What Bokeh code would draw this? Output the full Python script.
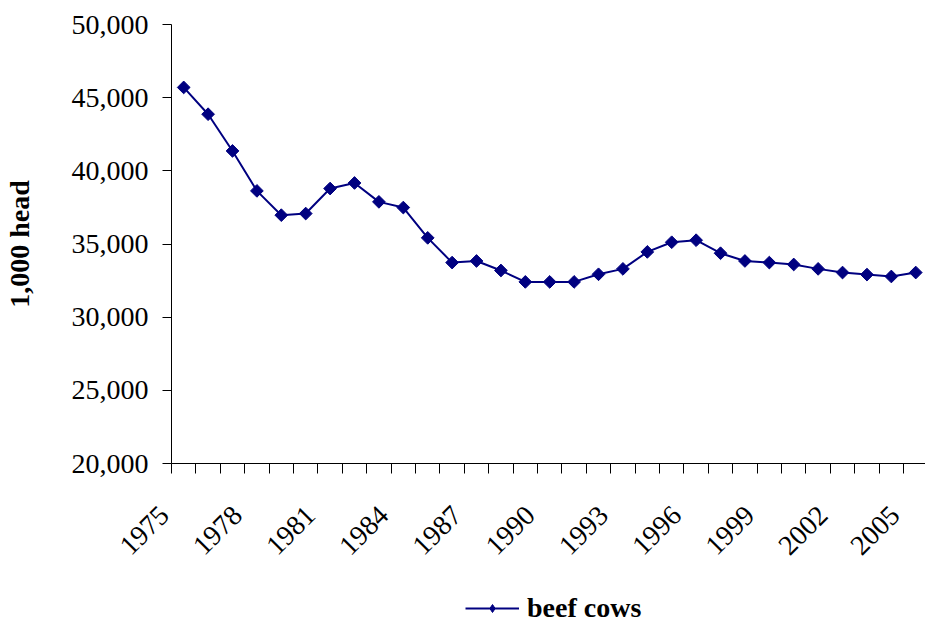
import math
from bokeh.plotting import figure
from bokeh.layouts import column
from bokeh.models import (FixedTicker, NumeralTickFormatter, Legend, LegendItem, Range1d)
from bokeh.embed import file_html
from bokeh.resources import INLINE

years = list(range(1975, 2006))
beef_cows = [45700, 43870, 41360, 38630, 36970, 37080, 38790, 39170, 37880, 37490,
             35420, 33730, 33840, 33190, 32410, 32410, 32410, 32930, 33300, 34460,
             35120, 35260, 34370, 33840, 33730, 33600, 33300, 33050, 32910, 32780, 33050]
y_ticks = [20000, 25000, 30000, 35000, 40000, 45000, 50000]
label_years = [1975, 1978, 1981, 1984, 1987, 1990, 1993, 1996, 1999, 2002, 2005]
series_name = "beef cows"

FONT = "Liberation Serif"
NAVY = "#000080"
PAD = "\u00a0" * 4  # slanted labels end a little left of their category, as in the original

p = figure(frame_width=754, frame_height=439, output_backend="svg", toolbar_location=None,
           x_range=Range1d(1974.5, 2005.4), y_range=Range1d(20000, 50000),
           min_border_left=171, min_border_top=24, min_border_right=0, min_border_bottom=0)
p.outline_line_color = None
p.xgrid.visible = False
p.ygrid.visible = False

p.line(years, beef_cows, line_color=NAVY, line_width=2)
p.scatter(years, beef_cows, marker="square", angle=math.pi / 4, size=9,
          fill_color=NAVY, line_color=NAVY)

xa = p.xaxis[0]
xa.ticker = FixedTicker(ticks=label_years, minor_ticks=[y - 0.5 for y in years] + [2005.5])
xa.major_label_overrides = {y: str(y) + PAD for y in label_years}
xa.major_tick_out = 0
xa.major_tick_in = 0
xa.minor_tick_out = 10
xa.minor_tick_in = 0
xa.minor_tick_line_color = "black"
xa.axis_line_color = "black"
xa.major_label_orientation = math.pi / 4
xa.major_label_standoff = 17
xa.major_label_text_font = FONT
xa.major_label_text_font_size = "28px"
xa.major_label_text_color = "black"

ya = p.yaxis[0]
ya.ticker = FixedTicker(ticks=y_ticks)
ya.formatter = NumeralTickFormatter(format="0,0")
ya.major_tick_out = 9
ya.major_tick_in = 0
ya.minor_tick_line_color = None
ya.axis_line_color = "black"
ya.major_tick_line_color = "black"
ya.major_label_standoff = 14
ya.major_label_text_font = FONT
ya.major_label_text_font_size = "28px"
ya.major_label_text_color = "black"
ya.axis_label = "1,000 head"
ya.axis_label_text_font = FONT
ya.axis_label_text_font_style = "bold"
ya.axis_label_text_font_size = "28px"
ya.axis_label_text_color = "black"
ya.axis_label_standoff = 34

# legend strip underneath the chart
leg = figure(width=925, height=50, output_backend="svg", toolbar_location=None,
             x_range=Range1d(0, 1), y_range=Range1d(0, 1),
             x_axis_location=None, y_axis_location=None, min_border=0)
leg.outline_line_color = None
leg.xgrid.visible = False
leg.ygrid.visible = False
lr = leg.line(years, beef_cows, line_color=NAVY, line_width=2)
sr = leg.scatter(years, beef_cows, marker="diamond", size=16, fill_color=NAVY, line_color=NAVY)
legend = Legend(items=[LegendItem(label=series_name, renderers=[lr, sr])],
                location=(294, 0), orientation="horizontal",
                label_text_font=FONT, label_text_font_style="bold",
                label_text_font_size="28px", label_text_color="black",
                glyph_width=54, glyph_height=20, border_line_color=None,
                background_fill_alpha=0, padding=0, margin=0, label_standoff=8)
leg.add_layout(legend, "center")

page = column(p, leg, spacing=0)
open("out.html", "w").write(file_html(page, INLINE))
